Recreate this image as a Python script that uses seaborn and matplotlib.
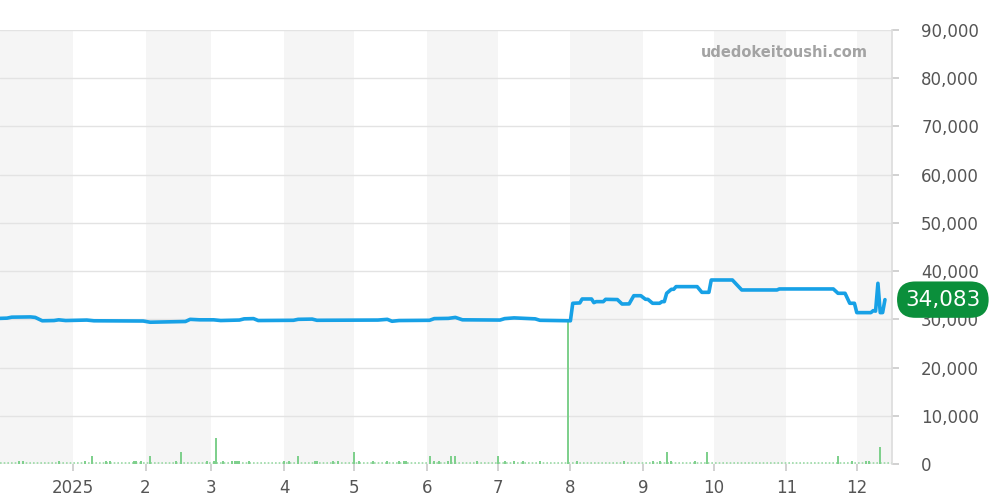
import matplotlib
matplotlib.use("Agg")
import matplotlib.pyplot as plt
import pandas as pd
import seaborn as sns

# price line (yen)
price_dates = ["2024-12-01", "2024-12-04", "2024-12-06", "2024-12-14", "2024-12-16", "2024-12-19",
               "2024-12-24", "2024-12-26", "2024-12-29", "2025-01-07", "2025-01-10", "2025-01-31",
               "2025-02-03", "2025-02-18", "2025-02-20", "2025-02-24", "2025-03-02", "2025-03-05",
               "2025-03-13", "2025-03-15", "2025-03-19", "2025-03-21", "2025-04-05", "2025-04-07",
               "2025-04-13", "2025-04-15", "2025-05-11", "2025-05-15", "2025-05-17", "2025-05-20",
               "2025-06-02", "2025-06-04", "2025-06-10", "2025-06-13", "2025-06-16", "2025-07-02",
               "2025-07-04", "2025-07-08", "2025-07-17", "2025-07-19", "2025-08-01", "2025-08-02",
               "2025-08-05", "2025-08-06", "2025-08-10", "2025-08-11", "2025-08-12", "2025-08-15",
               "2025-08-16", "2025-08-21", "2025-08-23", "2025-08-26", "2025-08-28", "2025-08-31",
               "2025-09-02", "2025-09-03", "2025-09-05", "2025-09-08", "2025-09-09", "2025-09-10",
               "2025-09-11", "2025-09-13", "2025-09-14", "2025-09-15", "2025-09-24", "2025-09-26",
               "2025-09-29", "2025-09-30", "2025-10-09", "2025-10-11", "2025-10-13", "2025-10-28",
               "2025-10-29", "2025-11-21", "2025-11-23", "2025-11-26", "2025-11-28", "2025-11-30",
               "2025-12-01", "2025-12-07", "2025-12-08", "2025-12-09", "2025-12-10", "2025-12-11",
               "2025-12-12", "2025-12-13"]
price_values = [30200, 30250, 30450, 30500, 30400, 29700,
                29750, 29900, 29750, 29850, 29700, 29650,
                29400, 29550, 30000, 29900, 29900, 29750,
                29850, 30100, 30150, 29750, 29800, 30000,
                30050, 29800, 29850, 30000, 29600, 29750,
                29800, 30150, 30200, 30400, 29900, 29850,
                30150, 30300, 30100, 29800, 29700, 33330,
                33400, 34220, 34220, 33460, 33670, 33670,
                34150, 34100, 33180, 33200, 34900, 34900,
                34150, 34150, 33330, 33330, 33670, 33670,
                35400, 36230, 36230, 36780, 36780, 35600,
                35600, 38160, 38160, 37120, 36090, 36090,
                36300, 36300, 35400, 35400, 33330, 33330,
                31390, 31390, 31800, 31700, 37470, 31390,
                31400, 34083]

# volume bars
vol_dates = ["2024-12-09", "2024-12-11", "2024-12-26", "2025-01-06", "2025-01-09", "2025-01-15",
             "2025-01-17", "2025-01-27", "2025-01-28", "2025-01-30", "2025-02-03", "2025-02-14",
             "2025-02-16", "2025-02-27", "2025-03-02", "2025-03-03", "2025-03-06", "2025-03-10",
             "2025-03-11", "2025-03-12", "2025-03-13", "2025-03-17", "2025-04-01", "2025-04-03",
             "2025-04-07", "2025-04-14", "2025-04-15", "2025-04-22", "2025-04-24", "2025-05-01",
             "2025-05-03", "2025-05-09", "2025-05-15", "2025-05-20", "2025-05-22", "2025-05-23",
             "2025-06-02", "2025-06-04", "2025-06-06", "2025-06-10", "2025-06-11", "2025-06-13",
             "2025-06-22", "2025-07-01", "2025-07-04", "2025-07-08", "2025-07-12", "2025-07-19",
             "2025-07-31", "2025-08-04", "2025-08-24", "2025-09-05", "2025-09-08", "2025-09-11",
             "2025-09-13", "2025-09-23", "2025-09-28", "2025-11-23", "2025-11-29", "2025-12-05",
             "2025-12-06", "2025-12-11"]
vol_values = [700, 700, 700, 700, 1700, 700,
              700, 700, 700, 700, 1700, 700,
              2500, 700, 700, 5400, 700, 700,
              700, 700, 700, 700, 700, 700,
              1700, 700, 700, 700, 700, 2500,
              700, 700, 700, 700, 700, 700,
              1700, 700, 700, 700, 1700, 1700,
              700, 1700, 700, 700, 700, 700,
              29800, 700, 700, 700, 700, 2500,
              700, 700, 2500, 1700, 700, 700,
              700, 3500]

month_ticks = ["2025-01-01", "2025-02-01", "2025-03-01", "2025-04-01", "2025-05-01", "2025-06-01",
               "2025-07-01", "2025-08-01", "2025-09-01", "2025-10-01", "2025-11-01", "2025-12-01"]
month_labels = ["2025", "2", "3", "4", "5", "6", "7", "8", "9", "10", "11", "12"]
shaded_months = [("2024-12-01", "2025-01-01"), ("2025-02-01", "2025-03-01"), ("2025-04-01", "2025-05-01"),
                 ("2025-06-01", "2025-07-01"), ("2025-08-01", "2025-09-01"), ("2025-10-01", "2025-11-01"),
                 ("2025-12-01", "2026-01-01")]

price = pd.DataFrame({"date": pd.to_datetime(price_dates), "price": price_values})
vol = pd.DataFrame({"date": pd.to_datetime(vol_dates), "vol": vol_values})

sns.set_theme(style="white")
plt.rcParams['font.family'] = ['DejaVu Sans']

fig = plt.figure(figsize=(10, 5), dpi=100)
ax = fig.add_axes([0, 0.072, 0.892, 0.868])

for a, b in shaded_months:
    ax.axvspan(pd.Timestamp(a), pd.Timestamp(b), color='#f5f5f5', lw=0, zorder=0)

ax.yaxis.grid(True, color='#e3e3e3', lw=1)
ax.set_axisbelow(True)

ax.axhline(150, color='#9ad9a5', lw=1.2, ls=(0, (1, 1.2)), zorder=1)
ax.bar(vol["date"], vol["vol"], width=0.85, color='#7fd08d', lw=0, edgecolor='none', zorder=2)

sns.lineplot(data=price, x="date", y="price", ax=ax, color='#17a1e6', lw=2.6, zorder=3)

ax.set_xlim(pd.Timestamp("2024-12-01"), pd.Timestamp("2025-12-16"))
ax.set_ylim(0, 90000)
ax.set_yticks(range(0, 90001, 10000))
ax.set_yticklabels([f"{v:,}" for v in range(0, 90001, 10000)])
ax.yaxis.tick_right()
ax.set_xticks(pd.to_datetime(month_ticks))
ax.set_xticklabels(month_labels)
ax.set_xlabel("")
ax.set_ylabel("")

ax.tick_params(axis='y', right=True, length=5, color='#cccccc', labelcolor='#555555', labelsize=12, pad=16)
ax.tick_params(axis='x', bottom=True, length=5, color='#cccccc', labelcolor='#555555', labelsize=12, pad=6)

for s in ['top', 'left', 'bottom']:
    ax.spines[s].set_visible(False)
ax.spines['right'].set_color('#dddddd')

ax.text(0.973, 0.949, "udedokeitoushi.com", transform=ax.transAxes, ha='right', va='center',
        fontsize=10.5, fontweight='bold', color='#a3a3a3')

ax.annotate(f"{price_values[-1]:,}", xy=(1.057, price_values[-1]), xycoords=('axes fraction', 'data'),
            ha='center', va='center', fontsize=15.5, color='white', annotation_clip=False,
            bbox=dict(boxstyle='round,pad=0.38,rounding_size=0.85', fc='#0b8f3b', ec='none'))

fig.savefig("out.png", dpi=100)
